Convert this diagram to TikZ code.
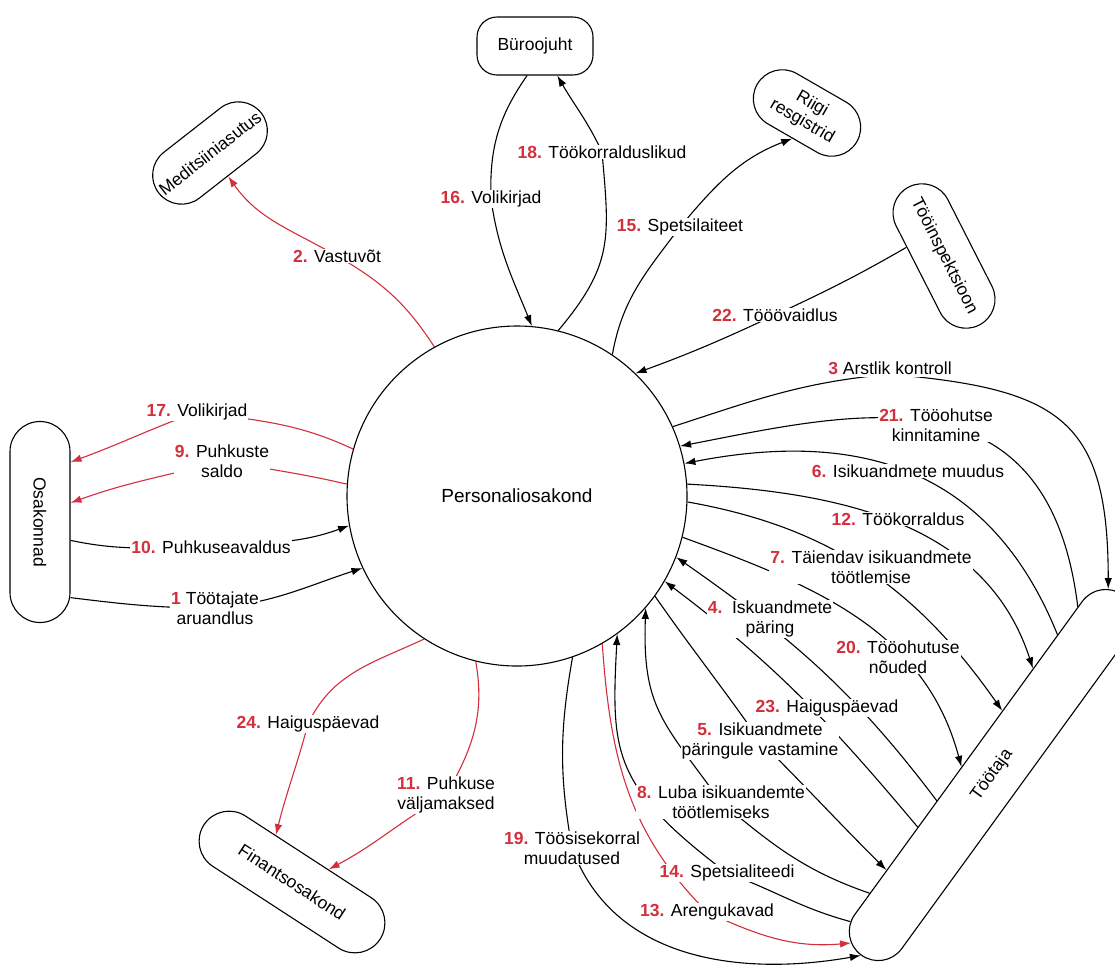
\documentclass[tikz,border=0pt]{standalone}
\usepackage{fontspec}
\setmainfont{Liberation Sans}
\usetikzlibrary{arrows.meta,shapes.misc,backgrounds}
\definecolor{numred}{RGB}{212,47,60}
\newcommand{\lnum}[1]{\textbf{\textcolor{numred}{#1}}}
\begin{document}
\begin{tikzpicture}[x=1pt,y=1pt,
  every node/.style={font=\fontsize{17.5}{20}\selectfont},
  party/.style={draw, line width=1.1pt, fill=white, rectangle, rounded corners=29pt,
    minimum height=58pt, inner sep=0pt, align=center},
  lbl/.style={fill=white, inner sep=1pt, align=center},
  flow/.style={line width=1.1pt, draw=black},
  rflow/.style={line width=1.1pt, draw=numred},
  tip/.style={-{Latex[length=11pt,width=7.5pt]}},
  tipback/.style={{Latex[length=11pt,width=7.5pt]}-}
]
\useasboundingbox (0,0) rectangle (1115,-970);

% parties
\node[draw, circle, line width=1.1pt, fill=white, minimum size=340pt, inner sep=0pt,
      font=\fontsize{19}{22}\selectfont] (pers) at (517,-496) {Personaliosakond};
\node[draw, line width=1.1pt, fill=white, rectangle, rounded corners=20pt,
      minimum width=116pt, minimum height=58pt, inner sep=0pt] (buro) at (535,-46) {Büroojuht};
\node[party, minimum width=115pt, rotate=-30] (riigi) at (807,-113) {Riigi\\resgistrid};
\node[party, minimum width=130pt, rotate=38] (medit) at (210,-153) {Meditsiiniasutus};
\node[party, minimum width=155pt, rotate=-63] (inspekt) at (944,-256) {Tööinspektsioon};
\node[party, minimum width=201pt, minimum height=60pt, rounded corners=30pt, rotate=-90] (osak) at (40,-522) {Osakonnad};
\node[party, minimum width=210pt, minimum height=60pt, rounded corners=30pt, rotate=-33] (fin) at (292,-882) {Finantsosakond};
\node[draw, line width=1.1pt, fill=white, rounded rectangle, minimum width=445pt,
      minimum height=58pt, inner sep=0pt, rotate=54] (toot) at (992,-775) {Töötaja};

% flow labels
\node[lbl] (l16) at (491,-199) {\lnum{16.} Volikirjad};
\node[lbl] (l18) at (602,-152) {\lnum{18.} Töökorralduslikud};
\node[lbl] (l15) at (680,-227) {\lnum{15.} Spetsilaiteet};
\node[lbl] (l22) at (775,-315) {\lnum{22.} Tööövaidlus};
\node[lbl] (l2) at (337,-256) {\lnum{2.} Vastuvõt};
\node[lbl] (l17) at (197,-412) {\lnum{17.} Volikirjad};
\node[lbl] (l9) at (222,-461) {\lnum{9.} Puhkuste\\saldo};
\node[lbl] (l10) at (211,-547) {\lnum{10.} Puhkuseavaldus};
\node[lbl] (l1) at (215,-608) {\lnum{1} Töötajate\\aruandlus};
\node[lbl] (l24) at (308,-724) {\lnum{24.} Haiguspäevad};
\node[lbl] (l11) at (446,-795) {\lnum{11.} Puhkuse\\väljamaksed};
\node[lbl] (l19) at (572,-848) {\lnum{19.} Töösisekorral\\muudatused};
\node[lbl, inner ysep=3pt] (l3) at (890,-368) {\lnum{3} Arstlik kontroll};
\node[lbl] (l21) at (936,-425) {\lnum{21.} Tööohutse\\kinnitamine};
\node[lbl] (l6) at (908,-471) {\lnum{6.} Isikuandmete muudus};
\node[lbl] (l12) at (898,-519) {\lnum{12.} Töökorraldus};
\node[lbl] (l7) at (871,-567) {\lnum{7.} Täiendav isikuandmete\\töötlemise};
\node[lbl] (l4) at (770,-619) {\lnum{4.}\hspace{0.55em}Iskuandmete\\päring};
\node[lbl] (l20) at (898,-657) {\lnum{20.} Tööohutuse\\nõuded};
\node[lbl] (l23) at (827,-708) {\lnum{23.} Haiguspäevad};
\node[lbl] (l5) at (760,-741) {\lnum{5.} Isikuandmete\\päringule vastamine};
\node[lbl] (l8) at (721,-802) {\lnum{8.} Luba isikuandemte\\töötlemiseks};
\node[lbl] (l14) at (727,-873) {\lnum{14.} Spetsialiteedi};
\node[lbl] (l13) at (707,-912) {\lnum{13.} Arengukavad};

\begin{scope}[on background layer]
\fill[white] (0,0) rectangle (1115,-970);
% departments, management, registries, finance
\draw[flow,tip] (osak.22) to[out=-7,in=180] (l1.center) to[out=5,in=198] (pers.205);
\draw[flow,tip] (osak.59) to[out=-12,in=180] (l10.center) to[out=5,in=200] (pers.190);
\draw[rflow,tip] (pers.164) to[out=155,in=-8] (l17.center) to[out=200,in=20] (osak.153);
\draw[rflow,tip] (pers.176) to[out=167,in=-10] (l9.center) to[out=195,in=20] (osak.122);
\draw[rflow,tip] (pers.119) to[out=123,in=-30] (l2.center) to[out=150,in=-55] (medit.south);
\draw[flow,tip] (buro.255) to[out=-125,in=92] (l16.center) to[out=-82,in=112] (pers.85);
\draw[flow,tip] (pers.76) to[out=50,in=-85,looseness=1.2] (l18.center) to[out=115,in=-60] (buro.-53);
\draw[flow,tip] (pers.56) to[out=80,in=-127] (l15.center) to[out=50,in=-159] (riigi.south);
\draw[flow,tip] (inspekt.-130) to[out=210,in=25] (l22.center) to[out=205,in=20] (pers.46);
\draw[rflow,tip] (pers.237) to[out=205,in=65] (l24.center) to[out=-105,in=76] (fin.142);
\draw[rflow,tip] (pers.256) to[out=-80,in=60] (l11.center) to[out=210,in=28] (fin.52);
% employee flows
\draw[flow,tip] (pers.24) to[out=18,in=185] (l3.base) to[out=-5,in=90,distance=170pt] (toot.4);
\draw[flow,tipback] (pers.17) to[out=11,in=97,out distance=178pt,in distance=244pt] (toot.9);
\draw[flow,tipback] (pers.11) to[out=11,in=112,out distance=168pt,in distance=188pt] (toot.11);
\draw[flow,tip] (pers.4) to[out=-3,in=108] (toot.15);
\draw[flow,tip] (pers.-2) to[out=-10,in=125] (toot.27);
\draw[flow,tip] (pers.-14) to[out=-20,in=105] (toot.111);
\draw[flow,tipback] (pers.-21) to[out=-35,in=127] (toot.151);
\draw[flow,tipback] (pers.-30) to[out=-37,in=130] (toot.161);
\draw[flow,tip] (pers.-36) to[out=-55,in=125] (l5.center) to[out=-45,in=135] (toot.168);
\draw[flow,tipback] (pers.-41) to[out=-92,in=126,distance=100pt] (l8.center) to[out=-40,in=161] (toot.170);
\draw[flow,tipback] (pers.-54) to[out=-93,in=143,out distance=119pt,in distance=144pt] (l14.center) to[out=-20,in=165] (toot.172);
\draw[rflow,tip] (pers.-60) to[out=-86,in=135] (l13.center) to[out=-25,in=185] (toot.176);
\draw[flow,tip] (pers.-71) to[out=-100,in=100] (l19.center) to[out=-70,in=190] (toot.180);
\end{scope}
\end{tikzpicture}
\end{document}
